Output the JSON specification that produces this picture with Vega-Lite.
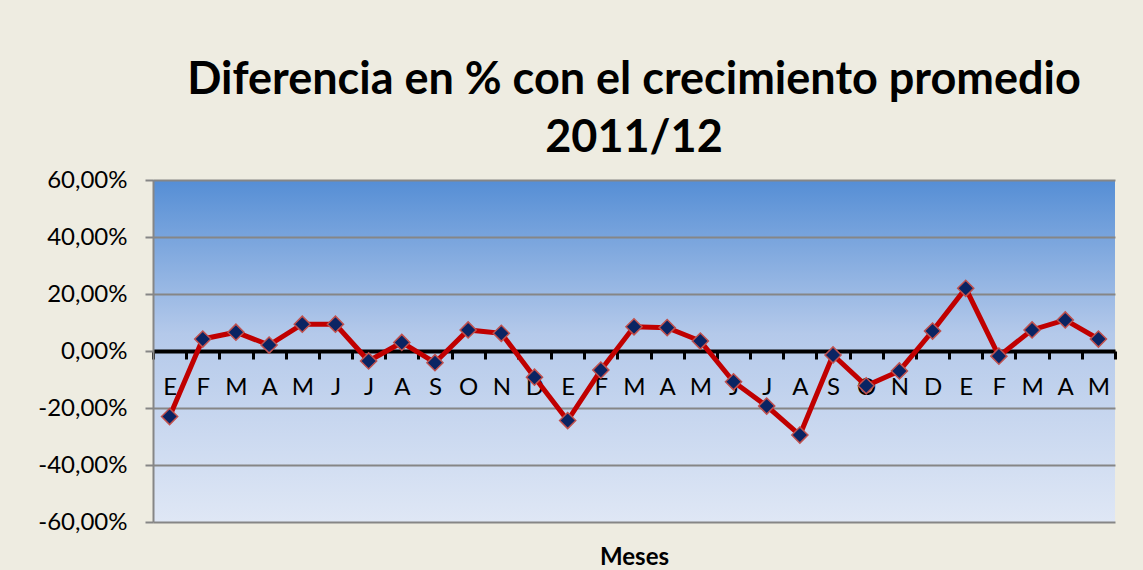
{
  "$schema": "https://vega.github.io/schema/vega-lite/v6.json",
  "width": 962,
  "height": 342,
  "autosize": {"type": "none"},
  "padding": {"left": 153, "top": 180, "right": 28, "bottom": 48},
  "background": "#EEECE1",
  "config": {
    "locale": {"number": {"decimal": ",", "thousands": ".", "grouping": [3], "currency": ["", "€"], "minus": "-"}},
    "view": {
      "stroke": null,
      "fill": {"gradient": "linear", "x1": 0, "y1": 0, "x2": 0, "y2": 1,
        "stops": [
          {"offset": 0, "color": "#558ED5"},
          {"offset": 0.45, "color": "#B4C9EA"},
          {"offset": 1, "color": "#DFE7F5"}
        ]}
    },
    "font": "Lato"
  },
  "title": {
    "text": ["Diferencia en % con el crecimiento promedio", "2011/12"],
    "font": "Lato",
    "fontSize": 45,
    "fontWeight": "bold",
    "color": "#000000",
    "anchor": "middle",
    "lineHeight": 58,
    "offset": 7
  },
  "data": {
    "values": [
      {"mes": "E 2011", "v": -0.230},
      {"mes": "F 2011", "v": 0.042},
      {"mes": "M 2011", "v": 0.066},
      {"mes": "A 2011", "v": 0.021},
      {"mes": "M' 2011", "v": 0.094},
      {"mes": "J 2011", "v": 0.094},
      {"mes": "J' 2011", "v": -0.035},
      {"mes": "A' 2011", "v": 0.030},
      {"mes": "S 2011", "v": -0.041},
      {"mes": "O 2011", "v": 0.074},
      {"mes": "N 2011", "v": 0.062},
      {"mes": "D 2011", "v": -0.092},
      {"mes": "E 2012", "v": -0.244},
      {"mes": "F 2012", "v": -0.067},
      {"mes": "M 2012", "v": 0.085},
      {"mes": "A 2012", "v": 0.082},
      {"mes": "M' 2012", "v": 0.035},
      {"mes": "J 2012", "v": -0.108},
      {"mes": "J' 2012", "v": -0.193},
      {"mes": "A' 2012", "v": -0.295},
      {"mes": "S 2012", "v": -0.014},
      {"mes": "O 2012", "v": -0.122},
      {"mes": "N 2012", "v": -0.070},
      {"mes": "D 2012", "v": 0.070},
      {"mes": "E 2013", "v": 0.220},
      {"mes": "F 2013", "v": -0.018},
      {"mes": "M 2013", "v": 0.074},
      {"mes": "A 2013", "v": 0.109},
      {"mes": "M' 2013", "v": 0.042}
    ]
  },
  "encoding": {
    "x": {
      "field": "mes",
      "type": "ordinal",
      "sort": null,
      "scale": {"paddingInner": 0, "paddingOuter": 0},
      "axis": {
        "orient": "bottom",
        "offset": -171,
        "title": "Meses",
        "titleFont": "Lato",
        "titleFontSize": 24,
        "titleFontWeight": "bold",
        "titleColor": "#000000",
        "titleBaseline": "middle",
        "titleY": 206,
        "labelExpr": "substring(datum.label, 0, 1)",
        "labelAngle": 0,
        "labelFont": "Lato",
        "labelFontSize": 24,
        "labelColor": "#000000",
        "labelPadding": 16,
        "domainColor": "#000000",
        "domainWidth": 4,
        "tickColor": "#000000",
        "tickWidth": 3,
        "tickSize": 8,
        "tickBand": "extent",
        "grid": false,
        "zindex": 0
      }
    },
    "y": {
      "field": "v",
      "type": "quantitative",
      "scale": {"domain": [-0.6, 0.6], "nice": false},
      "axis": {
        "title": null,
        "format": ".2%",
        "values": [-0.6, -0.4, -0.2, 0, 0.2, 0.4, 0.6],
        "labelFont": "Lato",
        "labelFontSize": 24,
        "labelColor": "#000000",
        "labelPadding": 18,
        "domainColor": "#868686",
        "domainWidth": 2,
        "tickColor": "#868686",
        "tickWidth": 2,
        "tickSize": 8,
        "gridColor": "#868686",
        "gridWidth": 2,
        "gridOpacity": 1,
        "zindex": 0
      }
    }
  },
  "layer": [
    {"mark": {"type": "line", "color": "#C00000", "strokeWidth": 5}},
    {"mark": {"type": "point", "shape": "diamond", "size": 260, "filled": true, "fill": "#0A2463", "stroke": "#C0504D", "strokeWidth": 1.5, "opacity": 1}}
  ]
}
